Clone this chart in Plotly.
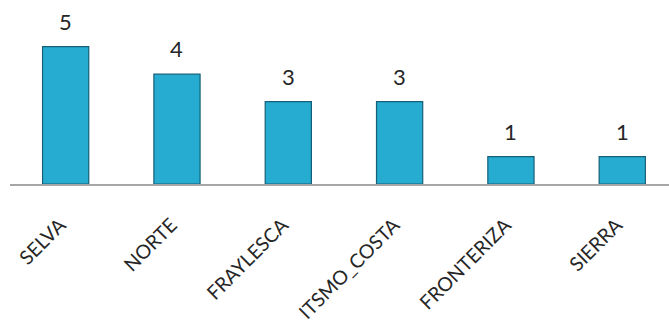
import plotly.graph_objects as go

regiones = ["SELVA", "NORTE", "FRAYLESCA", "ITSMO_COSTA", "FRONTERIZA", "SIERRA"]
conteos = [5, 4, 3, 3, 1, 1]

fig = go.Figure()
fig.add_trace(go.Bar(
    x=regiones,
    y=conteos,
    width=0.415,
    marker=dict(color="#26ACD0", line=dict(color="#155F78", width=1.2)),
    hoverinfo="skip",
))

# invisible carrier trace so the label axis (x2) gets drawn
fig.add_trace(go.Scatter(
    x=list(range(len(regiones))), y=conteos,
    xaxis="x2", yaxis="y",
    mode="markers", marker=dict(opacity=0),
    hoverinfo="skip", showlegend=False,
))

# value labels above each bar
for reg, val in zip(regiones, conteos):
    fig.add_annotation(
        x=reg, y=val, text=str(val), showarrow=False,
        yanchor="bottom", yshift=10,
        font=dict(family="Lato", size=22, color="#262626"),
    )

x_range = [-0.5, 5.42]
label_nudge = 0.05  # moves the slanted category labels slightly left

fig.update_layout(
    width=669, height=322,
    margin=dict(l=10, r=0, t=0, b=0),
    paper_bgcolor="white", plot_bgcolor="white",
    showlegend=False,
    xaxis=dict(
        type="category",
        range=x_range,
        showgrid=False,
        showline=True, linecolor="#A6A6A6", linewidth=1.5,
        ticks="", showticklabels=False,
        automargin=False,
    ),
    xaxis2=dict(
        overlaying="x", anchor="y", side="bottom",
        range=[x_range[0] + label_nudge, x_range[1] + label_nudge],
        tickmode="array",
        tickvals=list(range(len(regiones))),
        ticktext=regiones,
        showgrid=False, zeroline=False, showline=False,
        ticks="", tickangle=-45,
        ticklabelstandoff=25,
        tickfont=dict(family="Lato", size=19.5, color="#262626"),
        automargin=False,
    ),
    yaxis=dict(
        range=[0, 6.7],
        visible=False,
        domain=[1 - 184 / 322, 1],
    ),
)

fig.write_html("out.html")
